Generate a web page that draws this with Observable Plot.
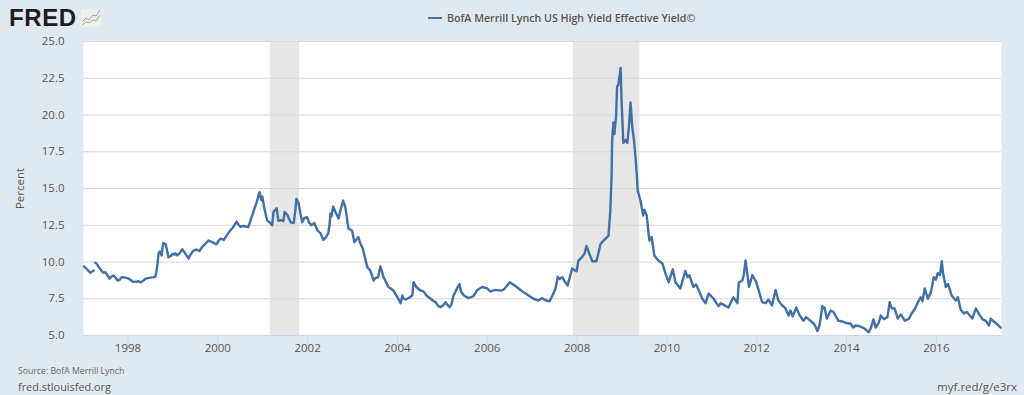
<!DOCTYPE html>
<html>
<head>
<meta charset="utf-8">
<script src="https://cdn.jsdelivr.net/npm/d3@7"></script>
<script src="https://cdn.jsdelivr.net/npm/@observablehq/plot@0.6"></script>
<style>
html,body{margin:0;padding:0;background:#e1e9f0;overflow:hidden}
#page{position:relative;width:1024px;height:395px;font-family:"Open Sans",sans-serif;color:#555}
#page svg.plot{position:absolute;left:0;top:0}
.t{position:absolute;white-space:nowrap}
</style>
</head>
<body>
<div id="page">
  <div id="chart"></div>
  <div class="t" style="left:9px;top:4px;font:bold 24px/28px 'Liberation Sans',sans-serif;color:#1d1d1f;letter-spacing:0.6px">FRED</div>
  <svg class="t" style="left:81px;top:9px" width="20" height="18" viewBox="0 0 20 18">
    <rect width="20" height="18" rx="2" fill="#eef0ea"/>
    <polyline points="1,13 5,9 8,11 12,6 15,7 19,1" fill="none" stroke="#8fa3bd" stroke-width="1"/>
    <polyline points="1,16 5,13 8,14 12,11 15,12 19,6" fill="none" stroke="#9db58a" stroke-width="1"/>
  </svg>
  <div class="t" style="left:428px;top:17px;width:14px;height:2px;background:#4572a7"></div>
  <div class="t" style="left:447px;top:9px;font-size:10.65px;line-height:18px;font-weight:600;color:#555" id="title"></div>
  <div class="t" style="left:18px;top:364px;font-size:8.7px;line-height:14px;color:#666" id="source"></div>
  <div class="t" style="left:18px;top:379px;font-size:10.9px;line-height:16px;color:#555" id="site"></div>
  <div class="t" style="right:7px;top:379px;font-size:11.5px;line-height:16px;color:#555" id="short"></div>
</div>
<script>
const titleText = "BofA Merrill Lynch US High Yield Effective Yield©";
const sourceText = "Source: BofA Merrill Lynch";
const siteText = "fred.stlouisfed.org";
const shortText = "myf.red/g/e3rx";
const yLabel = "Percent";
const xTicks = [1998,2000,2002,2004,2006,2008,2010,2012,2014,2016];
const yTicks = [5,7.5,10,12.5,15,17.5,20,22.5,25];
const recessionStart = [2001.17, 2007.92];
const recessionEnd = [2001.82, 2009.40];
const years = [
1997.02,1997.09,1997.16,1997.24,1997.25,1997.27,1997.30,1997.35,1997.41,1997.45,1997.50,1997.54,1997.59,1997.63,1997.68,1997.72,1997.77,1997.81,1997.86,1997.92,1997.99,
1998.06,1998.10,1998.19,1998.23,1998.28,1998.35,1998.39,1998.48,1998.57,1998.61,1998.63,1998.66,1998.68,1998.71,1998.75,1998.77,1998.79,1998.84,1998.87,1998.90,1998.95,1998.99,
1999.04,1999.06,1999.10,1999.15,1999.21,1999.28,1999.35,1999.39,1999.46,1999.53,1999.59,1999.66,1999.73,1999.79,1999.88,1999.97,
2000.02,2000.06,2000.13,2000.17,2000.24,2000.28,2000.35,2000.42,2000.46,2000.50,2000.57,2000.68,2000.79,2000.86,2000.93,2000.97,2000.99,
2001.04,2001.10,2001.15,2001.21,2001.24,2001.31,2001.35,2001.40,2001.46,2001.49,2001.55,2001.62,2001.69,2001.73,2001.75,2001.80,2001.84,2001.88,2001.93,2001.99,
2002.03,2002.08,2002.15,2002.22,2002.29,2002.35,2002.40,2002.46,2002.49,2002.51,2002.53,2002.57,2002.62,2002.69,2002.73,2002.79,2002.84,2002.91,2002.99,
2003.04,2003.13,2003.17,2003.23,2003.33,2003.40,2003.47,2003.51,2003.57,2003.62,2003.69,2003.80,2003.85,2003.91,2003.98,
2004.02,2004.07,2004.11,2004.14,2004.18,2004.25,2004.33,2004.36,2004.42,2004.51,2004.58,2004.65,2004.74,2004.80,2004.85,2004.91,2004.96,
2005.02,2005.07,2005.11,2005.16,2005.20,2005.25,2005.31,2005.38,2005.42,2005.49,2005.58,2005.69,2005.78,2005.89,
2006.00,2006.07,2006.18,2006.30,2006.36,2006.43,2006.50,2006.61,2006.74,2006.83,2006.92,
2007.03,2007.14,2007.22,2007.30,2007.39,2007.45,2007.52,2007.57,2007.61,2007.67,2007.72,2007.79,2007.85,2007.89,2007.94,2007.99,
2008.03,2008.11,2008.17,2008.21,2008.28,2008.34,2008.43,2008.48,2008.52,2008.59,2008.70,2008.74,2008.77,2008.78,2008.81,2008.83,2008.87,2008.89,2008.92,2008.97,2008.99,
2009.03,2009.08,2009.12,2009.16,2009.19,2009.23,2009.27,2009.30,2009.33,2009.35,2009.41,2009.47,2009.50,2009.55,2009.58,2009.61,2009.66,2009.72,2009.81,2009.90,2009.97,
2010.04,2010.13,2010.19,2010.30,2010.41,2010.46,2010.50,2010.59,2010.65,2010.79,2010.86,2010.93,
2011.04,2011.15,2011.20,2011.28,2011.37,2011.48,2011.57,2011.60,2011.68,2011.71,2011.75,2011.79,2011.83,2011.90,2011.99,
2012.04,2012.12,2012.20,2012.26,2012.34,2012.42,2012.48,2012.55,2012.64,2012.71,2012.75,2012.80,2012.88,2012.95,
2013.04,2013.10,2013.18,2013.27,2013.31,2013.35,2013.40,2013.46,2013.49,2013.51,2013.56,2013.65,2013.71,2013.82,2013.91,
2014.00,2014.09,2014.15,2014.20,2014.27,2014.36,2014.43,2014.49,2014.54,2014.60,2014.65,2014.72,2014.76,2014.83,2014.91,2014.96,
2015.01,2015.07,2015.14,2015.21,2015.30,2015.39,2015.45,2015.52,2015.58,2015.65,2015.69,2015.74,2015.81,2015.88,2015.94,2015.99,
2016.03,2016.08,2016.12,2016.15,2016.21,2016.26,2016.34,2016.43,2016.48,2016.54,2016.61,2016.68,2016.80,2016.88,2016.95,
2017.03,2017.10,2017.17,2017.21,2017.28,2017.36,2017.43];
const yields = [
9.7,9.5,9.27,9.42,null,9.95,9.9,9.65,9.4,9.28,9.3,9.1,8.87,9.0,9.08,8.95,8.74,8.78,8.97,8.95,8.9,
8.78,8.67,8.65,8.7,8.6,8.75,8.87,8.92,8.97,9.0,9.3,9.9,10.57,10.72,10.44,11.0,11.3,11.2,10.8,10.33,10.4,10.55,
10.5,10.6,10.45,10.6,10.87,10.55,10.24,10.5,10.78,10.85,10.75,11.05,11.25,11.46,11.35,11.2,
11.45,11.6,11.5,11.67,12.0,12.14,12.4,12.75,12.55,12.4,12.45,12.37,13.4,14.0,14.75,14.2,14.45,
13.6,12.82,12.7,12.5,13.4,13.66,12.8,12.85,12.78,13.4,13.2,12.7,12.65,13.6,14.3,14.0,13.3,12.7,13.0,13.05,
12.7,12.5,12.65,12.14,11.95,11.5,11.65,11.94,12.6,13.3,13.1,13.78,13.4,12.96,13.5,14.18,13.73,12.26,12.14,
11.35,11.7,11.3,10.9,9.65,9.4,8.74,8.9,8.97,9.7,8.97,8.3,8.2,8.06,7.7,
7.5,7.2,7.72,7.5,7.45,7.55,7.72,8.63,8.3,8.06,8.0,7.7,7.5,7.35,7.27,7.0,6.93,
7.05,7.27,7.1,6.93,7.1,7.72,8.1,8.5,7.95,7.7,7.54,7.67,8.1,8.3,
8.2,8.0,8.1,8.05,8.1,8.35,8.63,8.4,8.1,7.9,7.72,
7.5,7.38,7.54,7.4,7.33,7.7,8.2,9.0,8.85,8.97,8.7,8.4,9.1,9.56,9.45,9.37,
10.1,10.33,10.6,11.1,10.5,10.05,10.05,10.66,11.2,11.46,11.8,13.5,16,18.3,19.5,18.7,20,21.9,22.1,23.2,21,
18.1,18.3,18.1,19.4,20.85,19.15,18.2,17.13,15.9,14.86,14.2,13.16,13.55,13.16,12.3,11.46,11.7,10.44,10.1,9.9,9.2,
8.63,9.5,8.63,8.2,9.4,8.97,9.1,8.3,8.47,7.5,7.2,7.85,
7.5,7,7.2,7.05,6.9,7.6,7.2,8.6,8.74,9.1,10.1,9.2,8.3,9.1,8.63,
8.1,7.27,7.2,7.45,7.05,8.1,7.4,7.1,6.84,6.36,6.7,6.3,6.9,6.4,
6.0,6.25,6.05,5.8,5.6,5.3,5.7,7,6.85,6.9,6.15,6.7,6.6,6.0,5.95,
5.85,5.8,5.54,5.68,5.65,5.54,5.4,5.22,5.5,6.1,5.54,5.9,6.36,6.1,6.25,7.27,
6.84,6.84,6.15,6.43,6.0,6.15,6.5,6.8,7.2,7.6,7.33,8.2,7.5,7.95,8.97,8.8,
9.24,9.1,10.05,9.2,8.3,8.5,7.72,7.38,7.6,6.77,6.5,6.6,6.15,6.84,6.45,
6.1,6.0,5.68,6.15,5.95,5.75,5.54];

document.getElementById("title").textContent = titleText;
document.getElementById("source").textContent = sourceText;
document.getElementById("site").textContent = siteText;
document.getElementById("short").textContent = shortText;

const rows = years.map((year, i) => ({year, value: yields[i]}));
const recessions = recessionStart.map((x1, i) => ({x1, x2: recessionEnd[i]}));

const plot = Plot.plot({
  width: 1024,
  height: 395,
  marginTop: 41,
  marginBottom: 60,
  marginLeft: 83,
  marginRight: 23,
  style: {background: "transparent", fontFamily: "'Open Sans',sans-serif", fontSize: "11.5px", color: "#555", overflow: "visible"},
  x: {domain: [1997.01, 2017.45]},
  y: {domain: [5, 25]},
  marks: [
    Plot.frame({fill: "#ffffff", stroke: null}),
    Plot.rectY(recessions, {x1: "x1", x2: "x2", y1: 5, y2: 25, fill: "#e6e6e6"}),
    Plot.gridY(yTicks.slice(1), {stroke: "#d8d8d8", strokeOpacity: 1, strokeWidth: 1}),
    Plot.ruleY([5], {stroke: "#ccd6eb", strokeWidth: 1}),
    Plot.line(rows, {x: "year", y: "value", stroke: "#4170a6", strokeWidth: 2.4, strokeLinejoin: "round"}),
    Plot.axisX({ticks: xTicks, tickFormat: d => String(d), tickSize: 10, tickPadding: -2, stroke: "#ccd6eb", label: null, fill: "#555"}),
    Plot.axisY({ticks: yTicks, tickFormat: d3.format(".1f"), tickSize: 0, tickPadding: 19, label: yLabel, labelAnchor: "center", labelArrow: "none", labelOffset: 68, fill: "#555"})
  ]
});
document.getElementById("chart").appendChild(plot);
</script>
</body>
</html>
